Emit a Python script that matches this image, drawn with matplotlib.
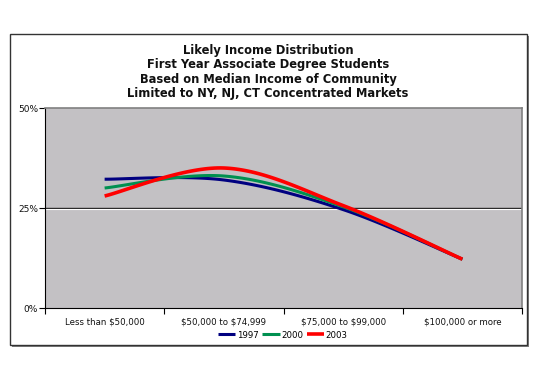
import numpy as np
import matplotlib
matplotlib.use("Agg")
import matplotlib.pyplot as plt
from matplotlib.patches import Rectangle

categories = ["Less than \\$50,000", "\\$50,000 to \\$74,999", "\\$75,000 to \\$99,000", "\\$100,000 or more"]
series_names = ["1997", "2000", "2003"]
v1997 = [32.2, 32.0, 24.6, 12.2]
v2000 = [30.0, 33.0, 25.3, 12.2]
v2003 = [28.0, 35.0, 25.6, 12.2]
colors = ["#000080", "#009050", "#ff0000"]
yticks = [0, 25, 50]
yticklabels = ["0%", "25%", "50%"]
title = ("Likely Income Distribution\nFirst Year Associate Degree Students\n"
         "Based on Median Income of Community\nLimited to NY, NJ, CT Concentrated Markets")


def smooth(x, y, n=40):
    x = np.asarray(x, float); y = np.asarray(y, float)
    P = np.column_stack([x, y])
    P = np.vstack([P[0], P, P[-1]])
    out = []
    for i in range(1, len(P) - 2):
        p0, p1, p2, p3 = P[i - 1], P[i], P[i + 1], P[i + 2]
        c1 = p1 + (p2 - p0) / 6.0
        c2 = p2 - (p3 - p1) / 6.0
        t = np.linspace(0, 1, n)[:, None]
        b = ((1 - t) ** 3) * p1 + 3 * ((1 - t) ** 2) * t * c1 + 3 * (1 - t) * t ** 2 * c2 + t ** 3 * p2
        out.append(b if i == 1 else b[1:])
    b = np.vstack(out)
    return b[:, 0], b[:, 1]


W, H = 540, 381
fig = plt.figure(figsize=(W / 100, H / 100), dpi=100)
fig.patch.set_facecolor("white")

# outer chart border with shadow
fig.add_artist(Rectangle((12 / W, 1 - 347 / H), 517 / W, 311 / H, transform=fig.transFigure,
                         facecolor="#808080", edgecolor="none", zorder=0))
fig.add_artist(Rectangle((10 / W, 1 - 345 / H), 517 / W, 311 / H, transform=fig.transFigure,
                         facecolor="white", edgecolor="#333333", lw=1.0, zorder=0.5))

ax = fig.add_axes([45 / W, 1 - 308 / H, 477 / W, 200 / H])
ax.set_facecolor("#c3c1c4")
ax.set_zorder(1)
ax.set_xlim(0, 4)
ax.set_ylim(0, 50)
for s in ["top", "right"]:
    ax.spines[s].set_color("#808080")
    ax.spines[s].set_linewidth(1.2)
for s in ["left", "bottom"]:
    ax.spines[s].set_color("black")
    ax.spines[s].set_linewidth(0.8)

ax.axhline(25, color="#202020", lw=1.0, zorder=1)
ax.axhline(24.65, color="white", lw=0.8, zorder=1)

x = np.arange(len(categories)) + 0.5
for vals, name, c in zip([v1997, v2000, v2003], series_names, colors):
    sx, sy = smooth(x, vals)
    lw = 2.6 if name == "2003" else 2.2
    ax.plot(sx, sy, color=c, lw=lw, label=name, solid_capstyle="butt", zorder=3)

ax.set_yticks(yticks)
ax.set_yticklabels(yticklabels, fontsize=6.5, color="#111111")
ax.set_xticks([0, 1, 2, 3, 4])
ax.set_xticklabels([])
ax.set_xticks(x, minor=True)
ax.set_xticklabels(categories, minor=True, fontsize=6.2, color="#111111")
ax.tick_params(axis="x", which="minor", length=0, pad=7)
ax.tick_params(axis="x", which="major", length=4, width=0.8, direction="out")
ax.tick_params(axis="y", length=4, width=0.8, direction="out", pad=1)

fig.text(268 / W, 1 - 72 / H, title, ha="center", va="center", fontsize=8.3,
         fontweight="bold", linespacing=1.12, color="#111111")

leg = fig.legend(loc="center", bbox_to_anchor=(283 / W, 1 - 335 / H), ncol=3, frameon=False,
                 fontsize=6.2, handlelength=2.0, handletextpad=0.2, columnspacing=0.4,
                 borderpad=0.1)

fig.savefig("out.png", dpi=100)
